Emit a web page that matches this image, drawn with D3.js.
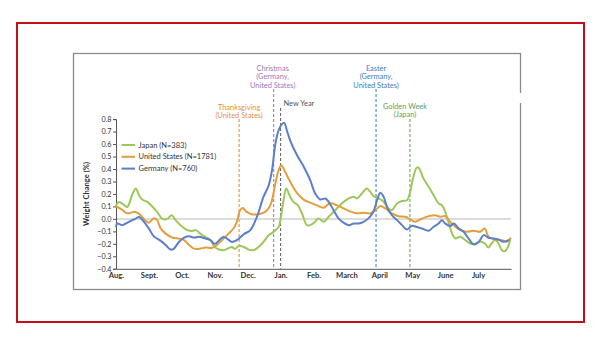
<!DOCTYPE html>
<html>
<head>
<meta charset="utf-8">
<script src="https://cdn.jsdelivr.net/npm/d3@7"></script>
<style>
  html, body { margin: 0; padding: 0; background: #fff; }
  svg { display: block; font-family: Lato, "Open Sans", sans-serif; }
</style>
</head>
<body>
<svg id="chart" width="600" height="348"></svg>
<script>
// Month labels along the x axis (month 0 = August)
const monthLabels = ["Aug.", "Sept.", "Oct.", "Nov.", "Dec.", "Jan.", "Feb.", "March", "April", "May", "June", "July"];
const yTicks = [-0.4, -0.3, -0.2, -0.1, 0.0, 0.1, 0.2, 0.3, 0.4, 0.5, 0.6, 0.7, 0.8];

// Series: [month position, weight change %]
const japan = [[0.0,0.11],[0.09,0.136],[0.2,0.12],[0.34,0.096],[0.5,0.2],[0.6,0.243],[0.7,0.19],[0.8,0.155],[0.95,0.136],[1.1,0.10],[1.25,0.056],[1.41,0.0],[1.56,0.0],[1.69,0.03],[1.81,-0.01],[1.96,-0.05],[2.17,-0.09],[2.32,-0.096],[2.42,-0.09],[2.57,-0.12],[2.72,-0.145],[2.87,-0.17],[2.98,-0.22],[3.13,-0.245],[3.29,-0.25],[3.42,-0.235],[3.52,-0.225],[3.62,-0.24],[3.74,-0.215],[3.88,-0.225],[4.03,-0.246],[4.18,-0.25],[4.33,-0.225],[4.48,-0.185],[4.64,-0.13],[4.79,-0.104],[4.94,-0.064],[5.01,0.016],[5.09,0.15],[5.17,0.243],[5.27,0.19],[5.39,0.136],[5.52,0.11],[5.65,0.043],[5.8,-0.05],[5.9,-0.05],[6.05,-0.023],[6.15,0.004],[6.31,-0.023],[6.46,0.017],[6.66,0.07],[6.86,0.124],[7.07,0.164],[7.22,0.178],[7.32,0.164],[7.47,0.204],[7.62,0.244],[7.72,0.218],[7.82,0.183],[7.98,0.164],[8.13,0.138],[8.28,0.084],[8.38,0.07],[8.54,0.124],[8.69,0.143],[8.84,0.15],[8.92,0.2],[9.02,0.32],[9.12,0.405],[9.18,0.413],[9.24,0.39],[9.34,0.325],[9.5,0.258],[9.65,0.19],[9.8,0.124],[9.9,0.11],[10.0,0.057],[10.1,-0.023],[10.21,-0.117],[10.31,-0.157],[10.46,-0.143],[10.61,-0.17],[10.76,-0.197],[10.91,-0.205],[11.06,-0.183],[11.21,-0.197],[11.31,-0.23],[11.41,-0.197],[11.52,-0.17],[11.62,-0.197],[11.72,-0.25],[11.8,-0.26],[11.91,-0.223],[11.98,-0.157]];

const unitedStates = [[0.0,0.096],[0.04,0.096],[0.2,0.07],[0.34,0.045],[0.6,0.056],[0.75,0.03],[0.9,-0.016],[1.0,-0.03],[1.15,0.005],[1.25,-0.01],[1.36,-0.078],[1.51,-0.118],[1.71,-0.15],[1.91,-0.158],[2.07,-0.17],[2.22,-0.21],[2.37,-0.238],[2.57,-0.238],[2.72,-0.23],[2.92,-0.232],[3.08,-0.205],[3.23,-0.168],[3.42,-0.118],[3.57,-0.077],[3.67,-0.024],[3.77,0.07],[3.85,0.088],[3.97,0.056],[4.13,0.037],[4.33,0.037],[4.53,0.056],[4.66,0.096],[4.74,0.15],[4.84,0.283],[4.94,0.39],[5.02,0.43],[5.14,0.377],[5.24,0.324],[5.37,0.26],[5.52,0.2],[5.7,0.155],[5.9,0.13],[6.1,0.108],[6.31,0.09],[6.5,0.125],[6.71,0.11],[7.02,0.07],[7.32,0.045],[7.52,0.05],[7.72,0.044],[7.88,0.07],[8.03,0.103],[8.18,0.084],[8.38,0.044],[8.58,0.022],[8.79,0.017],[8.94,-0.004],[9.09,-0.023],[9.24,-0.005],[9.39,0.012],[9.55,0.025],[9.7,0.03],[9.85,0.017],[10.0,0.022],[10.15,-0.023],[10.31,-0.063],[10.46,-0.09],[10.66,-0.103],[10.86,-0.095],[11.06,-0.103],[11.2,-0.077],[11.32,-0.144],[11.52,-0.165],[11.72,-0.17],[11.87,-0.183],[11.98,-0.157]];

const germany = [[0.0,-0.06],[0.04,-0.037],[0.19,-0.05],[0.39,-0.024],[0.6,0.003],[0.7,0.016],[0.85,-0.024],[1.0,-0.078],[1.15,-0.14],[1.36,-0.176],[1.51,-0.21],[1.66,-0.246],[1.76,-0.238],[1.91,-0.185],[2.07,-0.15],[2.22,-0.14],[2.37,-0.15],[2.52,-0.144],[2.72,-0.158],[2.87,-0.17],[3.0,-0.2],[3.27,-0.145],[3.52,-0.185],[3.67,-0.17],[3.88,-0.123],[4.08,-0.09],[4.28,0.016],[4.48,0.176],[4.64,0.27],[4.74,0.39],[4.84,0.6],[4.94,0.71],[5.04,0.76],[5.11,0.77],[5.19,0.71],[5.29,0.63],[5.5,0.51],[5.7,0.42],[5.9,0.31],[6.05,0.204],[6.2,0.156],[6.36,0.164],[6.46,0.137],[6.61,0.07],[6.76,0.004],[6.91,-0.03],[7.07,-0.05],[7.22,-0.037],[7.37,-0.037],[7.52,-0.023],[7.67,0.004],[7.82,0.057],[7.93,0.15],[8.03,0.21],[8.13,0.178],[8.23,0.097],[8.38,0.03],[8.54,-0.01],[8.69,-0.05],[8.84,-0.085],[8.99,-0.055],[9.14,-0.065],[9.29,-0.077],[9.5,-0.095],[9.65,-0.063],[9.8,-0.037],[9.9,-0.01],[10.0,-0.037],[10.15,-0.057],[10.26,-0.037],[10.41,-0.077],[10.56,-0.103],[10.71,-0.157],[10.86,-0.203],[11.02,-0.183],[11.17,-0.13],[11.32,-0.151],[11.47,-0.157],[11.62,-0.165],[11.77,-0.183],[11.93,-0.17]];

const seriesNames = ["Japan (N=383)", "United States (N=1781)", "Germany (N=760)"];
const seriesColors = ["#9cc85a", "#e59e3c", "#5b7fc8"];

// Holidays marked with dashed verticals
const holidayLabels = [["Thanksgiving", "(United States)"], ["Christmas", "(Germany,", "United States)"], ["New Year"], ["Easter", "(Germany,", "United States)"], ["Golden Week", "(Japan)"]];
const holidayMonths = [3.74, 4.79, 5.0, 7.9, 8.93];
const holidayColors = ["#e3903a", "#9c7cc4", "#6a6a6a", "#3a88d0", "#6aa85c"];
const holidayLabelColors = ["#e0943e", "#9a7cc0", "#555555", "#3f80c4", "#5f9e55"];
const holidayLineTop = [119, 89, 108, 89, 119];
const holidayLabelTop = [109.5, 71, 105.5, 71, 108.8];
const holidayLabelDx = [0, -1, 3, 0, -5];

const svg = d3.select("#chart");

// Frame
svg.append("rect").attr("x", 17).attr("y", 23).attr("width", 567).attr("height", 299)
  .attr("fill", "none").attr("stroke", "#c20e1a").attr("stroke-width", 2);
svg.append("rect").attr("x", 73.5).attr("y", 53.5).attr("width", 447).attr("height", 236)
  .attr("fill", "#fff").attr("stroke", "#8a8a8a").attr("stroke-width", 1.3);
svg.append("rect").attr("x", 518).attr("y", 93).attr("width", 5).attr("height", 10).attr("fill", "#fff");

const x = d3.scaleLinear().domain([0, 12]).range([116, 511]);
const y = d3.scaleLinear().domain([-0.4, 0.8]).range([268.8, 119.1]);

// Zero reference line
svg.append("line").attr("x1", x(0)).attr("x2", x(12)).attr("y1", y(0)).attr("y2", y(0))
  .attr("stroke", "#dcdcdc").attr("stroke-width", 2);

// Holiday markers
holidayMonths.forEach((m, i) => {
  svg.append("line").attr("x1", x(m)).attr("x2", x(m))
    .attr("y1", holidayLineTop[i]).attr("y2", y(-0.4))
    .attr("stroke", holidayColors[i]).attr("stroke-width", 1.1)
    .attr("stroke-dasharray", "3,2");
  const t = svg.append("text")
    .attr("fill", holidayLabelColors[i]).attr("font-size", 7.4)
    .attr("text-anchor", i === 2 ? "start" : "middle");
  holidayLabels[i].forEach((s, k) => {
    t.append("tspan").attr("x", x(m) + holidayLabelDx[i]).attr("y", holidayLabelTop[i] + k * 8.4).text(s);
  });
});

// Axes
const yAxis = d3.axisLeft(y).tickValues(yTicks).tickSize(3).tickPadding(1.5).tickFormat(d3.format(".1f"));
const gy = svg.append("g").attr("transform", `translate(${x(0)},0)`).call(yAxis);
gy.select(".domain").attr("stroke", "#555");
gy.selectAll(".tick line").attr("stroke", "#555");
gy.selectAll(".tick text").attr("font-size", 7.2).attr("fill", "#333").attr("font-family", "Lato, sans-serif");

const xAxis = d3.axisBottom(x).tickValues(d3.range(12)).tickSize(0).tickPadding(4)
  .tickFormat(i => monthLabels[i]);
const gx = svg.append("g").attr("transform", `translate(0,${y(-0.4)})`).call(xAxis);
gx.select(".domain").attr("stroke", "#555");
gx.selectAll(".tick text").attr("font-size", 7.6).attr("font-weight", "bold").attr("fill", "#333")
  .attr("font-family", "Lato, sans-serif");

svg.append("text").attr("transform", `translate(88.5,${y(0.2)}) rotate(-90)`)
  .attr("text-anchor", "middle").attr("font-size", 7.6).attr("font-weight", "bold").attr("fill", "#333")
  .text("Weight Change (%)");

// Series lines
const line = d3.line().x(d => x(d[0])).y(d => y(d[1])).curve(d3.curveCatmullRom.alpha(0.5));
[japan, unitedStates, germany].forEach((s, i) => {
  svg.append("path").datum(s).attr("d", line).attr("fill", "none")
    .attr("stroke", seriesColors[i]).attr("stroke-width", 2)
    .attr("stroke-linejoin", "round").attr("stroke-linecap", "round");
});

// Legend
seriesNames.forEach((name, i) => {
  const ly = 145 + i * 11.8;
  svg.append("line").attr("x1", 121.5).attr("x2", 135).attr("y1", ly).attr("y2", ly)
    .attr("stroke", seriesColors[i]).attr("stroke-width", 2);
  svg.append("text").attr("x", 138.5).attr("y", ly + 2.6).attr("font-size", 7.5).attr("fill", "#333")
    .text(name);
});
</script>
</body>
</html>
